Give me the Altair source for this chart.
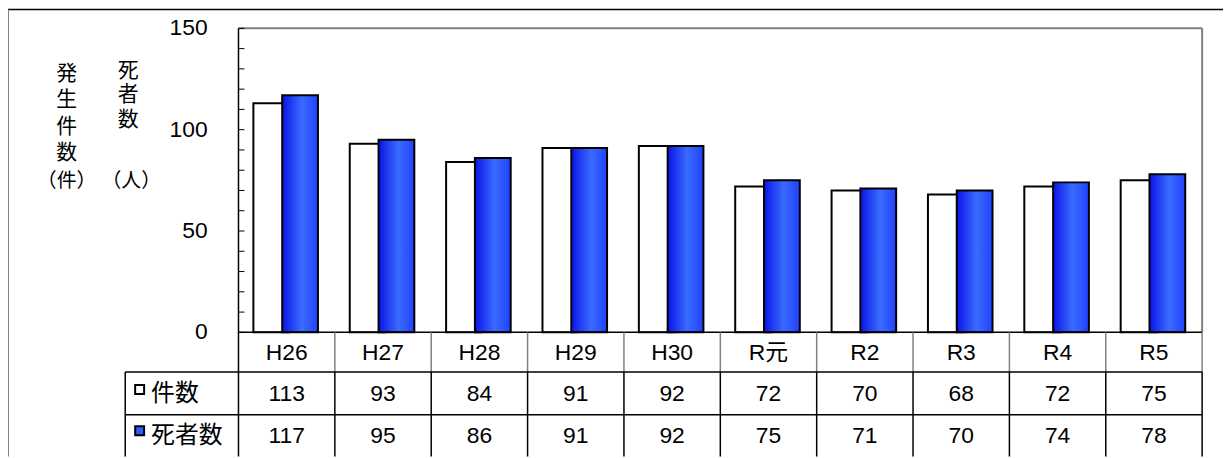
import altair as alt
import pandas as pd

# ---- data ----
categories = ["H26", "H27", "H28", "H29", "H30", "R元", "R2", "R3", "R4", "R5"]
cases = [113, 93, 84, 91, 92, 72, 70, 68, 72, 75]
deaths = [117, 95, 86, 91, 92, 75, 71, 70, 74, 78]
series_names = ["件数", "死者数"]
row_names = ["年度", "件数", "死者数"]
y_major_ticks = [0, 50, 100, 150]
y_minor_ticks = [0, 10, 20, 30, 40, 50, 60, 70, 80, 90, 100, 110, 120, 130, 140, 150]
title_cases_chars = ["発", "生", "件", "数"]
title_cases_unit = "（件）"
title_deaths_chars = ["死", "者", "数"]
title_deaths_unit = "（人）"

NUMFONT = "Liberation Sans, Arial, Noto Sans CJK JP"
CJK = "Noto Sans CJK JP"
W, H = 1223, 450

bars_df = pd.DataFrame({"cat": categories, "cases": cases, "deaths": deaths})
rows = []
for c, a, d in zip(categories, cases, deaths):
    rows.append({"cat": c, "row": row_names[0], "text": c})
    rows.append({"cat": c, "row": row_names[1], "text": str(a)})
    rows.append({"cat": c, "row": row_names[2], "text": str(d)})
table_df = pd.DataFrame(rows)
row_df = pd.DataFrame({"row": series_names})
cat_df = pd.DataFrame({"cat": categories})
ONE = pd.DataFrame({"k": [0]})

XS = alt.Scale(type="band", domain=categories, range=[232, 1202], paddingInner=0, paddingOuter=0)
YS = alt.Scale(domain=[0, 150], range=[325, 19], nice=False, zero=True)
RS = alt.Scale(type="point", domain=row_names, range=[346, 429], padding=0)


def hrule(x1, x2, y, color, w):
    return alt.Chart(ONE).mark_rule(color=color, strokeWidth=w).encode(
        x=alt.value(x1), x2=alt.value(x2), y=alt.value(y))


def vrule(x, y1, y2, color, w):
    return alt.Chart(ONE).mark_rule(color=color, strokeWidth=w).encode(
        x=alt.value(x), y=alt.value(y1), y2=alt.value(y2))


def label(text, x, y, lh, size=21):
    return alt.Chart(ONE).mark_text(text=text, font=CJK, fontSize=size, align="center",
                                    baseline="middle", lineHeight=lh, color="black").encode(
        x=alt.value(x), y=alt.value(y))


blue_fill = alt.Gradient(
    gradient="linear",
    stops=[alt.GradientStop(color="#0a14e6", offset=0),
           alt.GradientStop(color="#3a6cff", offset=0.55),
           alt.GradientStop(color="#2040ff", offset=1)],
    x1=0, x2=1, y1=0, y2=0)

white_bars = alt.Chart(bars_df).mark_bar(width=36, xOffset=-15.5, fill="white", stroke="black",
                                         strokeWidth=2).encode(
    x=alt.X("cat:N", scale=XS, axis=None),
    y=alt.Y("cases:Q", scale=YS, axis=None))

blue_bars = alt.Chart(bars_df).mark_bar(width=36, xOffset=13.5, fill=blue_fill, stroke="black",
                                        strokeWidth=2).encode(
    x=alt.X("cat:N", scale=XS, axis=None),
    y=alt.Y("deaths:Q", scale=YS, axis=None))

minor_ticks = alt.Chart(pd.DataFrame({"v": y_minor_ticks})).mark_rule(color="black", strokeWidth=1).encode(
    x=alt.value(232), x2=alt.value(238), y=alt.Y("v:Q", scale=YS, axis=None))

y_labels = alt.Chart(pd.DataFrame({"v": y_major_ticks})).mark_text(
    font=NUMFONT, fontSize=23, align="right", baseline="middle", color="black").encode(
    x=alt.value(201), y=alt.Y("v:Q", scale=YS, axis=None), text="v:Q")

sep_cat = alt.Chart(cat_df).mark_rule(color="#808080", strokeWidth=1.5).encode(
    x=alt.X("cat:N", scale=XS, axis=None, bandPosition=1), y=alt.value(325), y2=alt.value(365))
sep_val = alt.Chart(cat_df).mark_rule(color="black", strokeWidth=1.5).encode(
    x=alt.X("cat:N", scale=XS, axis=None, bandPosition=1), y=alt.value(365), y2=alt.value(H))

table_text = alt.Chart(table_df).mark_text(font=NUMFONT, fontSize=23, align="center",
                                           baseline="middle", color="black").encode(
    x=alt.X("cat:N", scale=XS, axis=None),
    y=alt.Y("row:N", scale=RS, axis=None),
    text="text:N")

row_labels = alt.Chart(row_df).mark_text(font=CJK, fontSize=24, align="left", baseline="middle",
                                         color="black").encode(
    x=alt.value(144), y=alt.Y("row:N", scale=RS, axis=None), text="row:N")

row_swatches = alt.Chart(row_df).mark_square(size=81, stroke="black", strokeWidth=2, opacity=1,
                                             filled=True, yOffset=-5).encode(
    x=alt.value(132.5), y=alt.Y("row:N", scale=RS, axis=None),
    fill=alt.Fill("row:N", scale=alt.Scale(domain=series_names, range=["white", "#2a5cff"]), legend=None))

layers = [
    # outer frame
    hrule(0, W, 0, "black", 1.5),
    vrule(0, 0, H, "#808080", 2),
    # plot frame
    hrule(232, 1202, 19, "#808080", 2),
    vrule(1202, 19, 325, "#808080", 2),
    white_bars,
    blue_bars,
    minor_ticks,
    # axes
    vrule(232, 19, H, "black", 1.5),
    hrule(232, 1202, 325, "black", 1.5),
    # table grid
    sep_cat,
    sep_val,
    hrule(118, 1202, 365, "black", 1.5),
    hrule(118, 1202, 408, "black", 1.5),
    vrule(118, 365, H, "black", 1.5),
    y_labels,
    table_text,
    row_labels,
    row_swatches,
    label(title_cases_chars, 59, 65, 26.5),
    label(title_cases_unit, 59, 173, 21, 20),
    label(title_deaths_chars, 121, 62, 24.5),
    label(title_deaths_unit, 124, 173, 21, 20),
]

chart = alt.layer(*layers).resolve_scale(y="independent").properties(
    width=W, height=H, autosize=alt.AutoSizeParams(type="none"), padding=0
).configure_view(stroke=None)

chart.save("out.html", embed_options={"renderer": "svg", "actions": False})
